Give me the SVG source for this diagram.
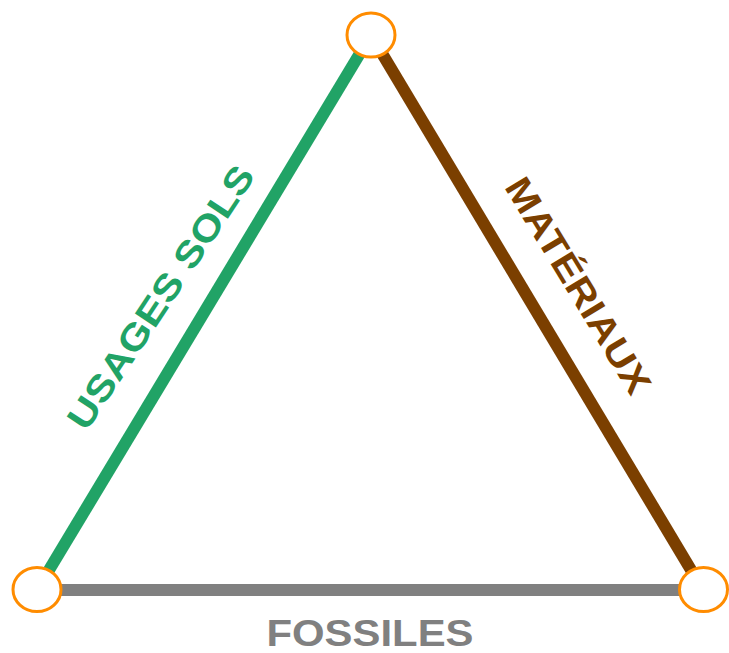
<svg xmlns="http://www.w3.org/2000/svg" width="729" height="653" viewBox="0 0 729 653">
<style>
.lbl{font-family:"Liberation Sans",Arial,sans-serif;font-weight:bold;font-size:36.5px;text-anchor:middle}
.edge{stroke-width:12;fill:none}
.node{fill:#fff;stroke:#FF8C00;stroke-width:3}
</style>
<rect width="729" height="653" fill="#fff"/>
<g id="connectors">
<line class="edge" x1="371" y1="35" x2="37" y2="590" stroke="#21A366"/>
<line class="edge" x1="371" y1="35" x2="703" y2="590" stroke="#7B3F00"/>
<line class="edge" x1="37" y1="590" x2="703" y2="590" stroke="#808080"/>
<text class="lbl" fill="#21A366" transform="translate(171.3,304.1) rotate(-56.5)" textLength="308" lengthAdjust="spacingAndGlyphs">USAGES SOLS</text>
<text class="lbl" fill="#7B3F00" transform="translate(567.5,292) rotate(58.8)" textLength="246" lengthAdjust="spacingAndGlyphs">MATÉRIAUX</text>
<text class="lbl" fill="#808080" x="370" y="646" textLength="207" lengthAdjust="spacingAndGlyphs">FOSSILES</text>
</g>
<g id="node-top"><ellipse class="node" cx="371" cy="35" rx="24" ry="22"/></g>
<g id="node-left"><ellipse class="node" cx="37" cy="589.5" rx="24" ry="22"/></g>
<g id="node-right"><ellipse class="node" cx="703.5" cy="589.5" rx="24" ry="22"/></g>
</svg>
